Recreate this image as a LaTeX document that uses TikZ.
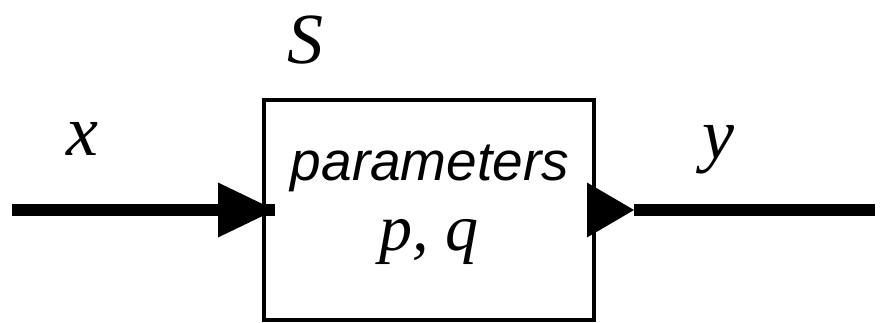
\documentclass[tikz,border=0pt]{standalone}
\usepackage{fontspec}
\setmainfont{Liberation Serif}
\newfontfamily\paramfont{Liberation Sans}
\begin{document}
\begin{tikzpicture}[x=1pt,y=-1pt,
  sig/.style={line width=12pt},
  blockbox/.style={draw,line width=4pt,minimum width=330pt,minimum height=220pt,inner sep=0pt},
  lbl/.style={anchor=base,inner sep=0pt,font=\fontsize{72}{80}\selectfont\itshape},
  tipfill/.style={fill=black}]
\useasboundingbox (0,0) rectangle (883,322);
\node[blockbox] (box) at (429,210) {};
\coordinate (in) at (12,210);
\coordinate (out) at (875,210);
\draw[sig] (in) -- ([xshift=13pt]box.west);
\fill[tipfill] ([xshift=13pt]box.west) -- ++(-57,-27.5) -- ++(0,55) -- cycle;
\draw[sig] ([xshift=38pt]box.east) -- (out);
\fill[tipfill] ([xshift=-9pt,yshift=27.5pt]box.east) -- ++(47,27.5) -- ++(-47,27.5) -- cycle;
\node[lbl] (S) at (305,63) {S};
\node[lbl] (x) at (82,155) {x};
\node[lbl] (y) at (718,158) {y};
\node[anchor=base,inner sep=0pt,font=\paramfont\fontsize{55}{60}\selectfont\itshape] (par) at (430,180) {parameters};
\node[anchor=base,inner sep=0pt,font=\fontsize{66}{70}\selectfont\itshape] (pq) at (429,250) {p, q};
\end{tikzpicture}
\end{document}
